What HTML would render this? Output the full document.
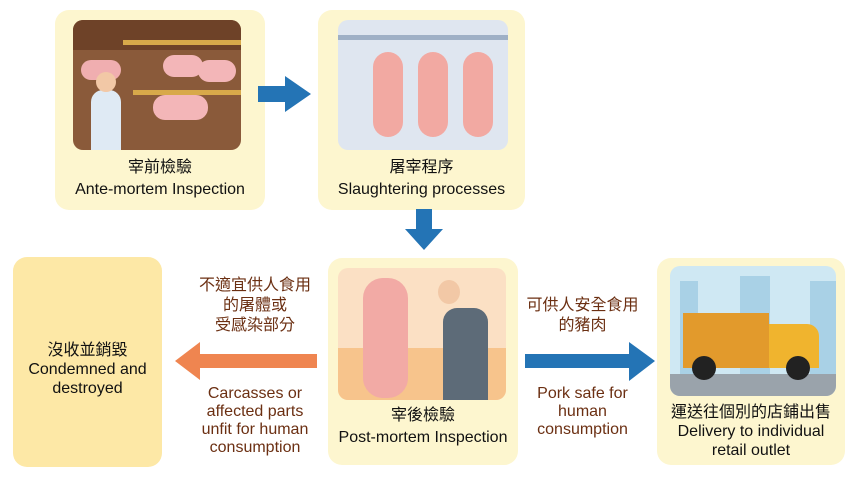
<!DOCTYPE html>
<html><head><meta charset="utf-8"><style>
body{margin:0;width:863px;height:481px;background:#fff;position:relative;overflow:hidden;font-family:"Liberation Sans","Noto Sans CJK TC",sans-serif;}
.box{position:absolute;background:#fdf6cf;border-radius:14px;}
.img{position:absolute;border-radius:10px;overflow:hidden;}
.t{position:absolute;text-align:center;color:#111;font-size:16px;line-height:21px;}
.lab{position:absolute;text-align:center;color:#6b2f12;font-size:15px;line-height:18px;}
</style></head><body>
<div class="box" style="left:55px;top:10px;width:210px;height:200px"></div>
<div class="img" style="left:73px;top:20px;width:168px;height:130px;background:#8a5a3a">
 <div style="position:absolute;left:0;top:0;width:168px;height:30px;background:#6e4228"></div>
 <div style="position:absolute;left:50px;top:20px;width:118px;height:5px;background:#d8a94a"></div>
 <div style="position:absolute;left:60px;top:70px;width:108px;height:5px;background:#d8a94a"></div>
 <div style="position:absolute;left:90px;top:35px;width:40px;height:22px;border-radius:12px;background:#f3b6b8"></div>
 <div style="position:absolute;left:125px;top:40px;width:38px;height:22px;border-radius:12px;background:#f3b6b8"></div>
 <div style="position:absolute;left:80px;top:75px;width:55px;height:25px;border-radius:12px;background:#f3b6b8"></div>
 <div style="position:absolute;left:8px;top:40px;width:40px;height:20px;border-radius:10px;background:#f0aeb0"></div>
 <div style="position:absolute;left:18px;top:70px;width:30px;height:60px;border-radius:12px 12px 0 0;background:#dfeaf4"></div>
 <div style="position:absolute;left:23px;top:52px;width:20px;height:20px;border-radius:50%;background:#f2c8a6"></div>
</div>
<div class="t" style="left:55px;top:157px;width:210px;line-height:22px">宰前檢驗<br>Ante-mortem Inspection</div>
<svg style="position:absolute;left:255px;top:74px" width="60" height="40"><polygon points="3,12 30,12 30,2 56,20 30,38 30,28 3,28" fill="#2474b5"/></svg>
<div class="box" style="left:318px;top:10px;width:207px;height:200px"></div>
<div class="img" style="left:338px;top:20px;width:170px;height:130px;background:#dfe6f0">
 <div style="position:absolute;left:0;top:15px;width:170px;height:5px;background:#9fb0c6"></div>
 <div style="position:absolute;left:35px;top:32px;width:30px;height:85px;border-radius:15px;background:#f2a9a2"></div>
 <div style="position:absolute;left:80px;top:32px;width:30px;height:85px;border-radius:15px;background:#f2a9a2"></div>
 <div style="position:absolute;left:125px;top:32px;width:30px;height:85px;border-radius:15px;background:#f2a9a2"></div>
</div>
<div class="t" style="left:318px;top:157px;width:207px;line-height:22px">屠宰程序<br>Slaughtering processes</div>
<svg style="position:absolute;left:402px;top:207px" width="44" height="46"><polygon points="14,2 30,2 30,22 41,22 22,43 3,22 14,22" fill="#2474b5"/></svg>
<div class="box" style="left:328px;top:258px;width:190px;height:207px"></div>
<div class="img" style="left:338px;top:268px;width:168px;height:132px;background:#fbe0c4">
 <div style="position:absolute;left:0;top:80px;width:168px;height:52px;background:#f7c48c"></div>
 <div style="position:absolute;left:25px;top:10px;width:45px;height:120px;border-radius:20px;background:#f2aaa5"></div>
 <div style="position:absolute;left:105px;top:40px;width:45px;height:92px;border-radius:14px 14px 0 0;background:#5d6b78"></div>
 <div style="position:absolute;left:100px;top:12px;width:22px;height:24px;border-radius:50%;background:#f2c8a6"></div>
</div>
<div class="t" style="left:328px;top:405px;width:190px;line-height:22px">宰後檢驗<br>Post-mortem Inspection</div>
<div class="box" style="left:13px;top:257px;width:149px;height:210px;background:#fde8a6"></div>
<div class="t" style="left:13px;top:341px;width:149px;line-height:19px">沒收並銷毀<br>Condemned and<br>destroyed</div>
<svg style="position:absolute;left:172px;top:340px" width="148" height="42"><polygon points="3,21 28,2 28,14 145,14 145,28 28,28 28,40" fill="#ef8550"/></svg>
<div class="lab" style="left:180px;top:276px;width:150px;font-size:16px;line-height:20px">不適宜供人食用<br>的屠體或<br>受感染部分</div>
<div class="lab" style="left:180px;top:385px;width:150px;font-size:16px;line-height:18px">Carcasses or<br>affected parts<br>unfit for human<br>consumption</div>
<svg style="position:absolute;left:523px;top:340px" width="136" height="44"><polygon points="2,14 106,14 106,2 132,21 106,41 106,28 2,28" fill="#2474b5"/></svg>
<div class="lab" style="left:515px;top:296px;width:135px;font-size:16px;line-height:20px">可供人安全食用<br>的豬肉</div>
<div class="lab" style="left:515px;top:385px;width:135px;font-size:16px;line-height:18px">Pork safe for<br>human<br>consumption</div>
<div class="box" style="left:657px;top:258px;width:188px;height:207px"></div>
<div class="img" style="left:670px;top:266px;width:166px;height:130px;background:#cfe8f3">
 <div style="position:absolute;left:10px;top:15px;width:18px;height:95px;background:#a9d1e6"></div>
 <div style="position:absolute;left:70px;top:10px;width:30px;height:100px;background:#a9d1e6"></div>
 <div style="position:absolute;left:140px;top:15px;width:26px;height:95px;background:#a9d1e6"></div>
 <div style="position:absolute;left:0;top:108px;width:166px;height:22px;background:#9aa3ab"></div>
 <div style="position:absolute;left:13px;top:47px;width:86px;height:55px;background:#e29a2c"></div>
 <div style="position:absolute;left:99px;top:58px;width:50px;height:44px;border-radius:0 12px 0 0;background:#f0b42e"></div>
 <div style="position:absolute;left:22px;top:90px;width:24px;height:24px;border-radius:50%;background:#222"></div>
 <div style="position:absolute;left:116px;top:90px;width:24px;height:24px;border-radius:50%;background:#222"></div>
</div>
<div class="t" style="left:657px;top:403px;width:188px;line-height:19px">運送往個別的店鋪出售<br>Delivery to individual<br>retail outlet</div>
</body></html>
